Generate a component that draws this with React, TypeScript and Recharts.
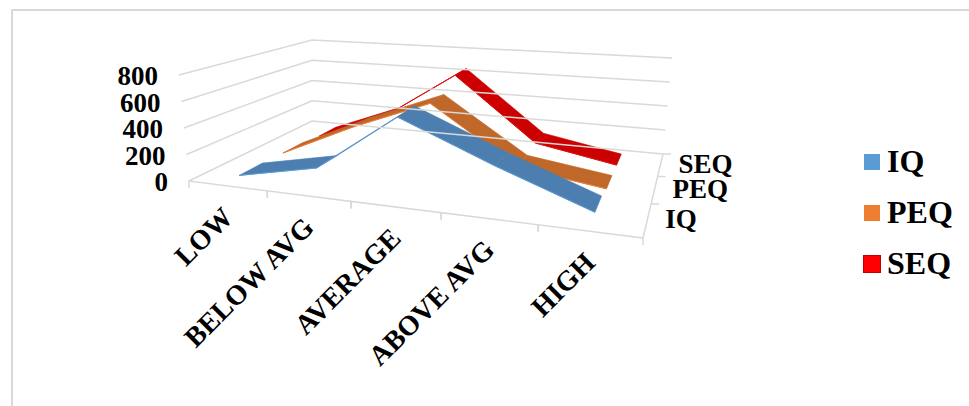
import React from 'react';
import { LineChart, Line, XAxis, YAxis, Legend } from 'recharts';

const categories = ['LOW', 'BELOW AVG', 'AVERAGE', 'ABOVE AVG', 'HIGH'];
const iqValues = [30, 155, 590, 310, 70];
const peqValues = [25, 300, 540, 110, 20];
const seqValues = [5, 243, 640, 125, 10];
const valueTicks = [0, 200, 400, 600, 800];

const data = categories.map((name, i) => ({ name, IQ: iqValues[i], PEQ: peqValues[i], SEQ: seqValues[i] }));

const W = 969;
const H = 406;
// flat plot area the library scales into, everything is then projected onto the 3D floor/walls
const PL = 100;
const PT = 40;
const PW = 500;
const PH = 200;

const FONT = '"Liberation Serif", serif';
const GRID = '#d9d9d9';
const BAND = 0.17; // ribbon thickness as a share of the depth axis

type Pt = [number, number];

const quadMap = (p0: Pt, p1: Pt, p2: Pt, p3: Pt) => {
  const dx1 = p1[0] - p2[0];
  const dx2 = p3[0] - p2[0];
  const sx = p0[0] - p1[0] + p2[0] - p3[0];
  const dy1 = p1[1] - p2[1];
  const dy2 = p3[1] - p2[1];
  const sy = p0[1] - p1[1] + p2[1] - p3[1];
  const den = dx1 * dy2 - dx2 * dy1;
  const g = (sx * dy2 - dx2 * sy) / den;
  const h = (dx1 * sy - sx * dy1) / den;
  const a = p1[0] - p0[0] + g * p1[0];
  const b = p3[0] - p0[0] + h * p3[0];
  const d = p1[1] - p0[1] + g * p1[1];
  const e = p3[1] - p0[1] + h * p3[1];
  return (u: number, v: number): Pt => {
    const w = g * u + h * v + 1;
    return [(a * u + b * v + p0[0]) / w, (d * u + e * v + p0[1]) / w];
  };
};

const floor = quadMap([189, 181], [643, 238], [663, 154], [312, 121]);
const ceiling = quadMap([179, 75], [680, 118], [672, 58], [312, 40]);

const project = (u: number, h: number, d: number): Pt => {
  const a = floor(u, d);
  const b = ceiling(u, d);
  return [a[0] + (b[0] - a[0]) * h, a[1] + (b[1] - a[1]) * h];
};

const toU = (x: number) => (x - PL) / PW;
const toH = (y: number) => (PT + PH - y) / PH;
const poly = (pts: Pt[]) => pts.map(p => `${p[0].toFixed(1)},${p[1].toFixed(1)}`).join(' ');

const ValueTick = (props: any) => {
  const { y, payload } = props;
  const h = toH(y);
  const start = project(0, h, 0);
  return (
    <g>
      <polyline points={poly([start, project(0, h, 1), project(1, h, 1)])} fill="none" stroke={GRID} strokeWidth={1.5} />
      <text x={start[0] - 21} y={start[1] + 10} textAnchor="end" fontFamily={FONT} fontWeight="bold" fontSize={27} fill="#000">
        {payload.value}
      </text>
    </g>
  );
};

const CategoryTick = (props: any) => {
  const { x, payload } = props;
  const u = toU(x);
  const from = project(u - 0.1, 0, 0);
  const to = project(u + 0.1, 0, 0);
  const mid = project(u, 0, 0);
  const lx = mid[0] + 7;
  const ly = mid[1] + 33;
  return (
    <g>
      <polyline points={poly([[from[0], from[1] + 7], from, to, [to[0], to[1] + 7]])} fill="none" stroke={GRID} strokeWidth={1.5} />
      <text x={lx} y={ly} textAnchor="end" fontFamily={FONT} fontWeight="bold" fontSize={28} fill="#000" transform={`rotate(-45 ${lx} ${ly})`}>
        {payload.value}
      </text>
    </g>
  );
};

const ribbon = (slot: number, name: string, fill: string, edge: string) => (props: any) => {
  const { index, points, key } = props;
  const mid = (slot + 0.5) / 3;
  const d0 = mid - BAND / 2;
  const d1 = mid + BAND / 2;
  const last = index === points.length - 1;
  if (last) {
    const a = project(1, 0, slot / 3);
    const b = project(1, 0, (slot + 1) / 3);
    const c = project(1, 0, mid);
    return (
      <g key={key}>
        <polyline points={poly([a, b, [b[0] + 8, b[1]]])} fill="none" stroke={GRID} strokeWidth={1.5} />
        <text x={c[0] + 18} y={c[1] + 8} fontFamily={FONT} fontWeight="bold" fontSize={27} fill="#000">{name}</text>
      </g>
    );
  }
  const p = points[index];
  const q = points[index + 1];
  const [pu, ph, qu, qh] = [toU(p.x), toH(p.y), toU(q.x), toH(q.y)];
  const quad = [project(pu, ph, d0), project(qu, qh, d0), project(qu, qh, d1), project(pu, ph, d1)];
  return (
    <g key={key}>
      <polygon points={poly(quad)} fill={fill} stroke={fill} strokeWidth={0.6} />
      <polyline points={poly([quad[0], quad[1]])} fill="none" stroke={edge} strokeWidth={1} />
    </g>
  );
};

const LegendBox = (props: any) => (
  <div>
    {props.payload.map((item: any) => (
      <div key={item.value} style={{ display: 'flex', alignItems: 'center', height: 51, fontFamily: FONT, fontWeight: 'bold', fontSize: 32, color: '#000' }}>
        <span
          style={{
            width: 16,
            height: 16,
            background: item.color,
            marginRight: 7,
            display: 'inline-block',
            outline: item.value === 'SEQ' ? '1px solid #c00000' : 'none',
          }}
        />
        {item.value}
      </div>
    ))}
  </div>
);

export default function App() {
  return (
    <div style={{ position: 'absolute', left: 0, top: 0, width: W, height: H, overflow: 'hidden', background: '#fff' }}>
      <div style={{ position: 'absolute', left: 11, top: 9, width: 1100, height: 600, border: `2px solid ${GRID}` }} />
      <LineChart
        width={W}
        height={H}
        data={data}
        margin={{ left: PL - 1, top: PT, right: W - PL - PW, bottom: H - PT - PH - 1 }}
        style={{ position: 'absolute', left: 0, top: 0 }}
      >
        <XAxis dataKey="name" scale="band" height={1} axisLine={false} tickLine={false} interval={0} tick={<CategoryTick />} />
        <YAxis domain={[0, 800]} ticks={valueTicks} width={1} axisLine={false} tickLine={false} interval={0} tick={<ValueTick />} />
        <Legend layout="vertical" align="center" verticalAlign="middle" content={<LegendBox />} wrapperStyle={{ left: 864, top: 136, width: 105 }} />
        <Line dataKey="SEQ" stroke="#ff0000" strokeWidth={0} isAnimationActive={false} dot={ribbon(2, 'SEQ', '#cc0000', '#dd1111')} />
        <Line dataKey="PEQ" stroke="#ed7d31" strokeWidth={0} isAnimationActive={false} dot={ribbon(1, 'PEQ', '#c0682a', '#ed7d31')} />
        <Line dataKey="IQ" stroke="#5b9bd5" strokeWidth={0} isAnimationActive={false} dot={ribbon(0, 'IQ', '#4c7fb0', '#5b9bd5')} />
      </LineChart>
    </div>
  );
}
